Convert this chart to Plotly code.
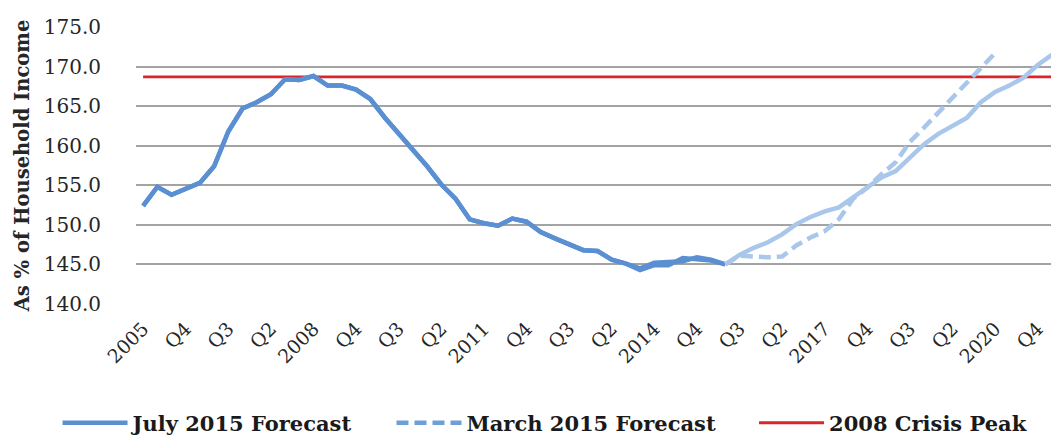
import plotly.graph_objects as go

# ---------------- data ----------------
tick_labels = ["2005", "Q4", "Q3", "Q2", "2008", "Q4", "Q3", "Q2", "2011", "Q4", "Q3",
               "Q2", "2014", "Q4", "Q3", "Q2", "2017", "Q4", "Q3", "Q2", "2020", "Q4"]
tick_step = 3          # one label every three quarters
n_quarters = 65        # 2005 Q1 .. 2021 Q1
history_end = 41       # last actual quarter (2015 Q2)

july_2015 = [152.4, 154.8, 153.8, 154.5, 155.3, 157.4, 161.8, 164.7, 165.5, 166.5,
             168.4, 168.3, 168.8, 167.6, 167.6, 167.1, 165.9, 163.6, 161.6, 159.5,
             157.4, 155.1, 153.3, 150.7, 150.2, 149.9, 150.8, 150.4, 149.1, 148.3,
             147.6, 146.8, 146.7, 145.6, 145.1, 144.3, 144.9, 144.9, 145.8, 145.6,
             145.5, 145.0, 146.2, 147.1, 147.8, 148.8, 150.1, 151.0, 151.7, 152.2,
             153.5, 154.7, 156.0, 156.8, 158.6, 160.2, 161.5, 162.5, 163.5, 165.5,
             166.8, 167.6, 168.6, 170.2, 171.5]

march_2015 = [152.4, 154.8, 153.8, 154.5, 155.3, 157.4, 161.8, 164.7, 165.5, 166.5,
              168.4, 168.3, 168.8, 167.6, 167.6, 167.1, 165.9, 163.6, 161.6, 159.5,
              157.4, 155.1, 153.3, 150.7, 150.2, 149.9, 150.8, 150.4, 149.1, 148.3,
              147.6, 146.8, 146.7, 145.6, 145.1, 144.5, 145.2, 145.3, 145.4, 145.9,
              145.6, 145.0, 146.1, 146.0, 145.9, 146.0, 147.4, 148.4, 149.2, 150.7,
              153.3, 154.7, 156.4, 157.9, 160.5, 162.3, 164.2, 166.0, 168.0, 170.0,
              171.7]

crisis_peak = 168.7

# ---------------- styling ----------------
DARK = "#5a90d2"
LIGHT = "#a9c7ea"
LEGEND_DASH = "#6e9fd8"
RED = "#d9262b"
SERIF = "DejaVu Serif, Liberation Serif, serif"
PAD = "\u00a0" * 5   # spacing after legend entries

x_all = list(range(n_quarters))
xj = list(range(len(july_2015)))
xm = list(range(len(march_2015)))
h = history_end

fig = go.Figure()

# red crisis line
fig.add_trace(go.Scatter(x=x_all, y=[crisis_peak] * n_quarters, mode="lines",
                         name="<b>2008 Crisis Peak</b>", legendrank=3,
                         line=dict(color=RED, width=2.8)))
# March 2015 forecast (history + forecast)
fig.add_trace(go.Scatter(x=xm[:h + 1], y=march_2015[:h + 1], mode="lines",
                         showlegend=False, line=dict(color=DARK, width=4.5)))
fig.add_trace(go.Scatter(x=xm[h:], y=march_2015[h:], mode="lines", showlegend=False,
                         line=dict(color=LIGHT, width=4.5, dash="12px,6px")))
# July 2015 forecast
fig.add_trace(go.Scatter(x=xj[:h + 1], y=july_2015[:h + 1], mode="lines",
                         name="<b>July 2015 Forecast</b>" + PAD, legendrank=1,
                         line=dict(color=DARK, width=4.5)))
fig.add_trace(go.Scatter(x=xj[h:], y=july_2015[h:], mode="lines", showlegend=False,
                         line=dict(color=LIGHT, width=4.5)))
# legend entry for March
fig.add_trace(go.Scatter(x=[None], y=[None], mode="lines",
                         name="<b>March 2015 Forecast</b>" + PAD, legendrank=2,
                         line=dict(color=LEGEND_DASH, width=4.5, dash="12px,6px")))

fig.update_layout(
    width=1059, height=443,
    margin=dict(l=128, r=8, t=19, b=143),
    paper_bgcolor="white", plot_bgcolor="white",
    font=dict(family=SERIF, color="#262626"),
    showlegend=True,
    legend=dict(orientation="h", x=-0.085, xanchor="left", y=-0.43, yanchor="middle",
                font=dict(family=SERIF, size=21, color="#1a1a1a"),
                itemwidth=65, traceorder="normal"),
    xaxis=dict(range=[-0.5, n_quarters - 0.5],
               tickmode="array",
               tickvals=[i * tick_step for i in range(len(tick_labels))],
               ticktext=tick_labels, tickangle=-45,
               tickfont=dict(family=SERIF, size=19, color="#262626"),
               ticklabelstandoff=9,
               showgrid=False, zeroline=False, showline=False, ticks=""),
    yaxis=dict(range=[140, 175], tickmode="linear", tick0=140, dtick=5,
               tickformat=".1f",
               tickfont=dict(family=SERIF, size=20, color="#262626"),
               ticklabelstandoff=34,
               showgrid=True, gridcolor="#a3a3a3", gridwidth=1.5,
               zeroline=False, showline=False, ticks="",
               title=dict(text="<b>As % of Household Income</b>",
                          font=dict(family=SERIF, size=19.5, color="#262626"),
                          standoff=8)),
)

fig.write_html("out.html")
